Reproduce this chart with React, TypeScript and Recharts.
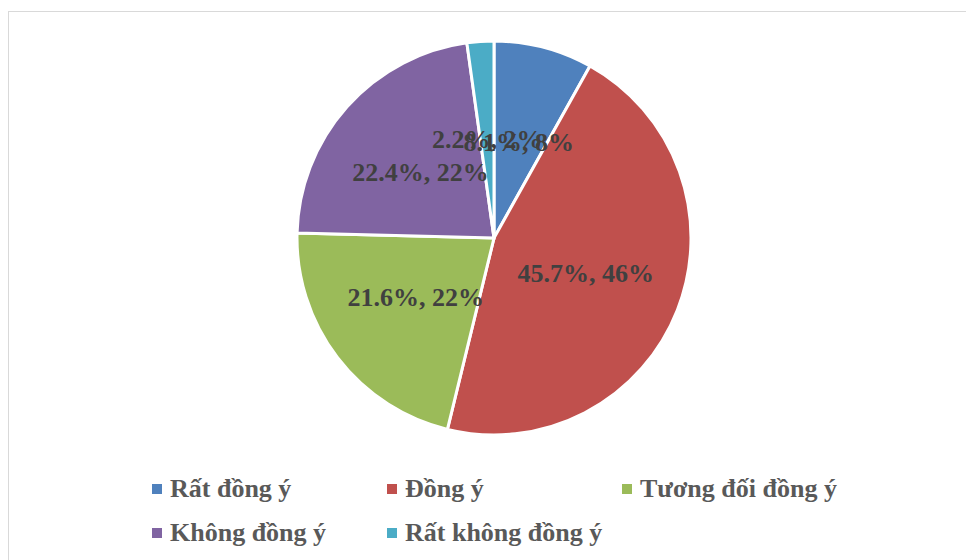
import { PieChart, Pie, Cell, Legend } from "recharts";

// survey answers, in percent
const categories = ["Rất đồng ý", "Đồng ý", "Tương đối đồng ý", "Không đồng ý", "Rất không đồng ý"];
const shares = [8.1, 45.7, 21.6, 22.4, 2.2];
const COLORS = ["#4F81BD", "#C0504D", "#9BBB59", "#8064A2", "#4BACC6"];

const data = categories.map((name, i) => ({ name, value: shares[i] }));

const FONT = "'Liberation Serif', 'Times New Roman', serif";
const RADIAN = Math.PI / 180;

function renderLabel(props: any) {
  const { cx, cy, midAngle, outerRadius } = props;
  const value: number = props.value ?? props.payload?.value;
  const r = outerRadius * 0.5;
  const x = cx + r * Math.cos(-midAngle * RADIAN);
  const y = cy + r * Math.sin(-midAngle * RADIAN);
  return (
    <text
      x={x}
      y={y}
      textAnchor="middle"
      dominantBaseline="central"
      fill="#404040"
      fontSize={26}
      fontWeight="bold"
      fontFamily={FONT}
    >
      {`${value.toFixed(1)}%, ${Math.round(value)}%`}
    </text>
  );
}

function renderLegend(props: any) {
  // keep legend entries in category order
  const payload = [...(props.payload ?? [])].sort(
    (a: any, b: any) => categories.indexOf(a.value) - categories.indexOf(b.value)
  );
  return (
    <div style={{ display: "flex", flexWrap: "wrap", width: 720 }}>
      {payload.map((entry: any, i: number) => (
        <div
          key={i}
          style={{ width: 235, height: 44, display: "flex", alignItems: "flex-start" }}
        >
          <span
            style={{
              display: "inline-block",
              width: 10,
              height: 10,
              marginTop: 8,
              marginRight: 8,
              background: COLORS[categories.indexOf(entry.value)] ?? entry.color,
            }}
          />
          <span
            style={{
              fontFamily: FONT,
              fontWeight: "bold",
              fontSize: 26,
              lineHeight: "26px",
              color: "#595959",
              whiteSpace: "nowrap",
            }}
          >
            {entry.value}
          </span>
        </div>
      ))}
    </div>
  );
}

export default function App() {
  return (
    <>
      <style>{"body{margin:0;overflow:hidden;background:#fff}"}</style>
      <div
        style={{
          position: "absolute",
          left: 8,
          top: 11,
          width: 970,
          height: 560,
          borderTop: "1px solid #d9d9d9",
          borderLeft: "1px solid #d9d9d9",
          background: "#fff",
        }}
      >
        <PieChart width={958} height={548} margin={{ top: 0, right: 0, bottom: 0, left: 0 }}>
          <Pie
            data={data}
            dataKey="value"
            nameKey="name"
            cx={485}
            cy={226}
            outerRadius={197}
            startAngle={90}
            endAngle={-270}
            stroke="#fff"
            strokeWidth={3}
            labelLine={false}
            label={renderLabel}
            isAnimationActive={false}
          >
            {data.map((_, index) => (
              <Cell key={index} fill={COLORS[index % COLORS.length]} />
            ))}
          </Pie>
          <Legend
            content={renderLegend}
            wrapperStyle={{ left: 143, top: 464, bottom: "auto", width: 720 }}
          />
        </PieChart>
      </div>
    </>
  );
}
